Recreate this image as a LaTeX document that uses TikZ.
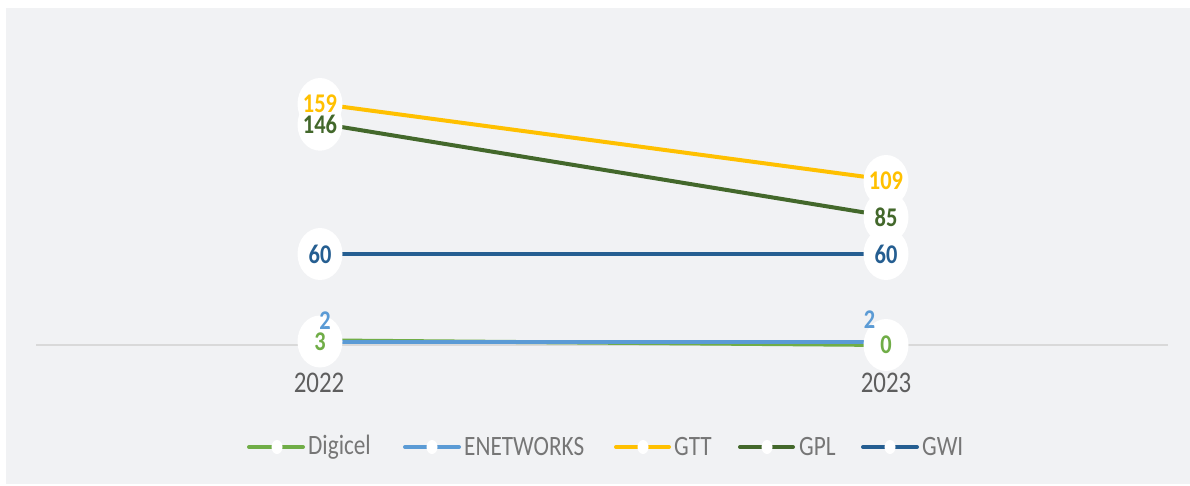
\documentclass[tikz,border=0pt]{standalone}
\usepackage{fontspec}
\setmainfont{Carlito}[FakeStretch=0.83]
\usetikzlibrary{positioning, shapes.geometric}
\definecolor{bgcol}{RGB}{241,242,244}
\definecolor{axiscol}{RGB}{217,217,217}
\definecolor{txtcol}{RGB}{118,118,118}
\definecolor{digicel}{RGB}{112,173,71}
\definecolor{enet}{RGB}{91,155,213}
\definecolor{gtt}{RGB}{255,192,0}
\definecolor{gpl}{RGB}{67,104,43}
\definecolor{gwi}{RGB}{37,94,145}
\tikzset{
    serie/.style={
        line width=4pt, % ligne de la serie
        line cap=round
    },
    bubble/.style={
        ellipse,
        fill=white,
        minimum width=45pt,
        minimum height=52pt,
        inner sep=0
    },
    vallabel/.style={
        font=\fontsize{27}{27}\selectfont\bfseries,
        inner sep=0
    },
    yearlabel/.style={
        font=\fontsize{30}{30}\selectfont,
        text=txtcol!80!black,
        inner sep=0
    },
    legtext/.style={
        font=\fontsize{28}{28}\selectfont,
        text=txtcol,
        anchor=west,
        inner sep=0
    },
    legdot/.style={
        ellipse,
        fill=white,
        minimum width=11pt,
        minimum height=14pt,
        inner sep=0
    }
}

\begin{document}
\begin{tikzpicture}[x=1pt, y=-1pt]
    \useasboundingbox (0,0) rectangle (1190,485);
    \fill[bgcol] (6,8) rectangle (1190,484);
    % axe horizontal
    \draw[axiscol, line width=2pt] (36,345) coordinate (axL) -- (1168,345) coordinate (axR);
    % points des series
    \coordinate (dig22) at (320,340.4);
    \coordinate (dig23) at (886,345);
    \coordinate (ene22) at (320,342);
    \coordinate (ene23) at (886,342);
    \coordinate (gtt22) at (320,103.8);
    \coordinate (gtt23) at (886,179.6);
    \coordinate (gpl22) at (320,123.5);
    \coordinate (gpl23) at (886,216);
    \coordinate (gwi22) at (320,254);
    \coordinate (gwi23) at (886,254);
    \draw[serie, digicel] (dig22) -- (dig23);
    \draw[serie, enet] (ene22) -- (ene23);
    \draw[serie, gtt] (gtt22) -- (gtt23);
    \draw[serie, gpl] (gpl22) -- (gpl23);
    \draw[serie, gwi] (gwi22) -- (gwi23);
    % bulles blanches
    \node[bubble] (b-dig22) at (320,341.5) {};
    \node[bubble] (b-dig23) at (886,345) {};
    \node[bubble] (b-gwi22) at (320,254) {};
    \node[bubble] (b-gwi23) at (886,254) {};
    \node[bubble] (b-gpl23) at (886,217) {};
    \node[bubble] (b-gtt23) at (886,181) {};
    \node[bubble] (b-gpl22) at (320,124.7) {};
    \node[bubble] (b-gtt22) at (320,104) {};
    % etiquettes
    \node[vallabel, text=gtt] (t-gtt22) at (b-gtt22) {159};
    \node[vallabel, text=gpl] (t-gpl22) at (b-gpl22) {146};
    \node[vallabel, text=gwi] (t-gwi22) at (b-gwi22) {60};
    \node[vallabel, text=digicel] (t-dig22) at (b-dig22) {3};
    \node[vallabel, text=enet] (t-ene22) at (325,321) {2};
    \node[vallabel, text=gtt] (t-gtt23) at (b-gtt23) {109};
    \node[vallabel, text=gpl] (t-gpl23) at (b-gpl23) {85};
    \node[vallabel, text=gwi] (t-gwi23) at (b-gwi23) {60};
    \node[vallabel, text=digicel] (t-dig23) at (b-dig23) {0};
    \node[vallabel, text=enet] (t-ene23) at (869.5,319.5) {2};
    % annees
    \node[yearlabel] (y22) at (319,383) {2022};
    \node[yearlabel] (y23) at (886,383) {2023};
    % legende
    \draw[serie, digicel] (249,447) coordinate (l1a) -- (303,447) coordinate (l1b);
    \node[legdot] (d1) at (277,447) {};
    \node[legtext] (n1) at (308,447) {Digicel};
    \draw[serie, enet] (405,447) coordinate (l2a) -- (459,447) coordinate (l2b);
    \node[legdot] (d2) at (432,447) {};
    \node[legtext] (n2) at (464,447) {ENETWORKS};
    \draw[serie, gtt] (616,447) coordinate (l3a) -- (669,447) coordinate (l3b);
    \node[legdot] (d3) at (643,447) {};
    \node[legtext] (n3) at (674,447) {GTT};
    \draw[serie, gpl] (740,447) coordinate (l4a) -- (793,447) coordinate (l4b);
    \node[legdot] (d4) at (767,447) {};
    \node[legtext] (n4) at (799,447) {GPL};
    \draw[serie, gwi] (863,447) coordinate (l5a) -- (917,447) coordinate (l5b);
    \node[legdot] (d5) at (890,447) {};
    \node[legtext] (n5) at (922,447) {GWI};
\end{tikzpicture}
\end{document}
